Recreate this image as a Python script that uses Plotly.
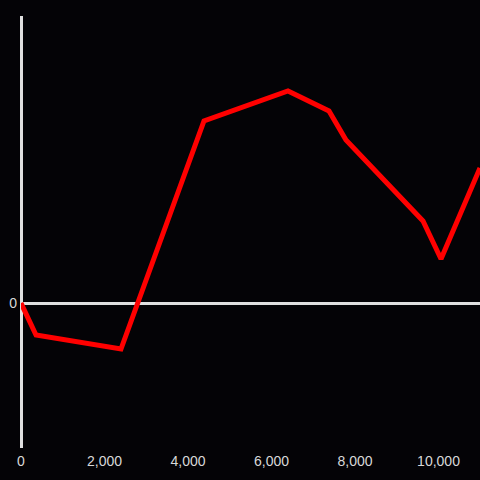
import plotly.graph_objects as go

x_vals = [0, 360, 2395, 4383, 6395, 7377, 7784, 9629, 10060, 10994]
y_vals = [0, -32, -46, 182, 212, 192, 163, 82, 44, 135]
x_ticks = [0, 2000, 4000, 6000, 8000, 10000]
x_tick_labels = ["0", "2,000", "4,000", "6,000", "8,000", "10,000"]

fig = go.Figure(go.Scatter(x=x_vals, y=y_vals, mode="lines",
                           line=dict(color="#ff0000", width=5), cliponaxis=False))
fig.update_layout(
    width=480, height=480,
    paper_bgcolor="#040306", plot_bgcolor="#040306",
    margin=dict(l=21, r=0, t=16, b=32),
    showlegend=False,
    font=dict(family="Liberation Sans, Arial", size=14, color="#d8d8d8"),
)
fig.update_xaxes(range=[0, 10994], showgrid=False, zeroline=True, zerolinecolor="#e0e0e0",
                 zerolinewidth=3, tickvals=x_ticks, ticktext=x_tick_labels, ticks="",
                 showline=False, ticklabelstandoff=3)
fig.update_yaxes(range=[-145, 287], showgrid=False, zeroline=True, zerolinecolor="#e0e0e0",
                 zerolinewidth=3, tickvals=[0], ticktext=["0"], ticks="", showline=False,
                 ticklabelstandoff=3)
fig.write_html("out.html", config={"displayModeBar": False},
               post_script="document.body.style.margin='0';document.body.style.background='#040306';")
